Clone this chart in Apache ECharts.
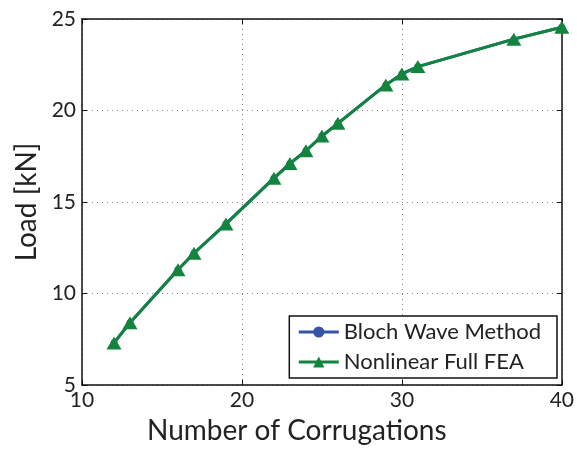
<!DOCTYPE html>
<html>
<head>
<meta charset="utf-8">
<script src="https://cdn.jsdelivr.net/npm/echarts@6/dist/echarts.min.js"></script>
<style>
  html, body { margin: 0; padding: 0; background: #fff; }
  #chart { width: 577px; height: 452px; }
</style>
</head>
<body>
<div id="chart"></div>
<script>
// Number of corrugations vs. peak load
const corrugations = [12, 13, 16, 17, 19, 22, 23, 24, 25, 26, 29, 30, 31, 37, 40];
const blochLoad    = [7.3, 8.4, 11.3, 12.2, 13.8, 16.3, 17.1, 17.8, 18.6, 19.3, 21.4, 22.0, 22.4, 23.9, 24.55];
const feaLoad      = [7.3, 8.4, 11.3, 12.2, 13.8, 16.3, 17.1, 17.8, 18.6, 19.3, 21.4, 22.0, 22.4, 23.9, 24.55];
const seriesNames  = ['Bloch Wave Method', 'Nonlinear Full FEA'];
const xTitle = 'Number of Corrugations';
const yTitle = 'Load [kN]';

const FONT = 'Lato, "Open Sans", sans-serif';
const TEXT = '#222';
const BLUE = '#3553a8';
const GREEN = '#13843e';

const pairs = (xs, ys) => xs.map((x, i) => [x, ys[i]]);

const chart = echarts.init(document.getElementById('chart'));

const axisBase = {
  axisLine: { show: true, onZero: false, lineStyle: { color: '#111', width: 1.5 } },
  axisTick: { show: true, inside: true, length: 5, lineStyle: { color: '#111', width: 1 } }
};
const gridDots = { show: true, lineStyle: { color: '#8a8a8a', type: [1, 4], width: 1 } };

chart.setOption({
  animation: false,
  backgroundColor: '#fff',
  grid: { left: 82, right: 13, top: 19, bottom: 67 },
  xAxis: [
    Object.assign({}, axisBase, {
      type: 'value', min: 10, max: 40, interval: 10, position: 'bottom',
      axisLabel: { fontFamily: FONT, fontSize: 21, color: TEXT, margin: 5 },
      splitLine: gridDots
    }),
    Object.assign({}, axisBase, {
      type: 'value', min: 10, max: 40, interval: 10, position: 'top',
      axisLabel: { show: false }, splitLine: { show: false }
    })
  ],
  yAxis: [
    Object.assign({}, axisBase, {
      type: 'value', min: 5, max: 25, interval: 5, position: 'left',
      name: yTitle, nameLocation: 'middle', nameGap: 40,
      nameTextStyle: { fontFamily: FONT, fontSize: 28, color: TEXT },
      axisLabel: { fontFamily: FONT, fontSize: 21, color: TEXT, margin: 6 },
      splitLine: gridDots
    }),
    Object.assign({}, axisBase, {
      type: 'value', min: 5, max: 25, interval: 5, position: 'right',
      axisLabel: { show: false }, splitLine: { show: false }
    })
  ],
  graphic: [{
    type: 'text', left: 147, top: 417,
    style: { text: xTitle, fontFamily: FONT, fontSize: 28, fill: TEXT }
  }],
  legend: {
    data: [
      { name: seriesNames[0], lineStyle: { width: 3, color: BLUE } },
      { name: seriesNames[1], lineStyle: { width: 3, color: GREEN } }
    ],
    orient: 'vertical',
    right: 20,
    bottom: 74,
    itemWidth: 40,
    itemHeight: 14,
    itemGap: 8,
    itemTextGap: 4,
    padding: [5, 16, 5, 8],
    backgroundColor: '#fff',
    borderColor: '#111',
    borderWidth: 1.5,
    borderRadius: 0,
    textStyle: { fontFamily: FONT, fontSize: 22, lineHeight: 22, color: TEXT }
  },
  series: [
    {
      name: seriesNames[0], type: 'line',
      data: pairs(corrugations, blochLoad),
      symbol: 'circle', symbolSize: 7,
      lineStyle: { color: BLUE, width: 3 },
      itemStyle: { color: BLUE },
      z: 2
    },
    {
      name: seriesNames[1], type: 'line',
      data: pairs(corrugations, feaLoad),
      symbol: 'triangle', symbolSize: [15, 13],
      lineStyle: { color: GREEN, width: 3 },
      itemStyle: { color: GREEN },
      z: 3
    }
  ]
});
</script>
</body>
</html>
